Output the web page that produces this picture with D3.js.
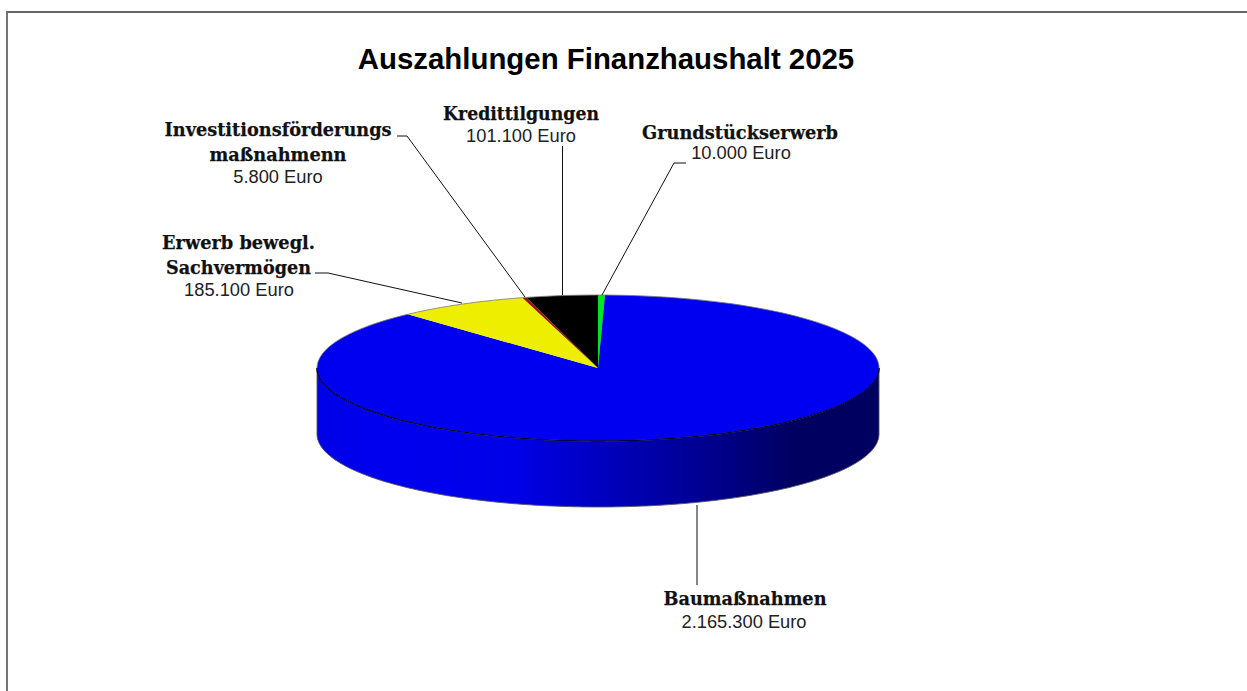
<!DOCTYPE html>
<html><head><meta charset="utf-8">
<script src="https://cdn.jsdelivr.net/npm/d3@7"></script>
<style>html,body{margin:0;padding:0;background:#fff}svg{display:block}</style></head>
<body><svg id="c" width="1247" height="691"></svg>
<script>
const titleText = "Auszahlungen Finanzhaushalt 2025";
const categories = ["Grundstückserwerb","Baumaßnahmen","Erwerb bewegl. Sachvermögen","Investitionsförderungs maßnahmenn","Kredittilgungen"];
const values = [10000,2165300,185100,5800,101100];
const valueLabels = ["10.000 Euro","2.165.300 Euro","185.100 Euro","5.800 Euro","101.100 Euro"];
const colors = ["#00e620","#0000f0","#eeee00","#a01010","#000000"];

const W=1247,H=691,cx=598,cy=368,rx=281,ry=73,depth=66;
const svg=d3.select("#c");
const defs=svg.append("defs");
const grad=defs.append("linearGradient").attr("id","side").attr("gradientUnits","userSpaceOnUse")
  .attr("x1",cx-rx).attr("x2",cx+rx).attr("y1",0).attr("y2",0);
[[0,"#0000e6"],[0.1,"#0000f0"],[0.35,"#0000e8"],[0.55,"#0000b4"],[0.72,"#000088"],[0.85,"#000060"],[1,"#000060"]]
  .forEach(([o,c])=>grad.append("stop").attr("offset",o).attr("stop-color",c));

svg.append("path").attr("d",`M7,${H}V12H${W}`).attr("fill","none").attr("stroke","#666").attr("stroke-width",1.8);

svg.append("text").attr("x",606).attr("y",69).attr("text-anchor","middle")
  .attr("font-family","'Liberation Sans',Arial,sans-serif").attr("font-weight",700).attr("font-size",29.4)
  .attr("fill","#000").text(titleText);

const pie=d3.pie().sort(null).value(d=>d).startAngle(0).endAngle(2*Math.PI);
const arcs=pie(values);
const px=d3.scaleLinear().domain([0,1]).range([cx,cx+rx]);
const py=d3.scaleLinear().domain([0,1]).range([cy,cy-ry]);
const P=a=>[px(Math.sin(a)),py(Math.cos(a))];

const front=d3.range(90,271).map(d=>d*Math.PI/180);
const topEdge=front.map(P);
const botEdge=front.slice().reverse().map(a=>{const p=P(a);return [p[0],p[1]+depth]});
const line=d3.line();
svg.append("path").attr("d",line(topEdge.concat(botEdge))+"Z").attr("fill","url(#side)")
  .attr("stroke","#556").attr("stroke-width",.9);

const arcGen=d3.arc().innerRadius(0).outerRadius(1);
const g=svg.append("g").attr("transform",`translate(${cx},${cy}) scale(${rx},${ry})`);
g.selectAll("path").data(arcs).join("path").attr("d",arcGen).attr("fill",(d,i)=>colors[i]);
svg.append("path").attr("d",line(d3.range(0,361,2).map(d=>P(d*Math.PI/180))))
  .attr("fill","none").attr("stroke","#777").attr("stroke-width",.8);
svg.append("path").attr("d",line(topEdge)).attr("fill","none").attr("stroke","#000038").attr("stroke-width",1.3);

const leaders=[
 [[602,295],[674,163],[686,163]],
 [[697,505],[697,585]],
 [[462,303],[328,273],[315,273]],
 [[525,297],[407,136],[397,136]],
 [[562.5,295],[562.5,146]]
];
leaders.forEach(p=>svg.append("path").attr("d",line(p)).attr("fill","none").attr("stroke","#111").attr("stroke-width",1));

const serif="'DejaVu Serif','Liberation Serif',serif", sans="'Liberation Sans',Arial,sans-serif";
const labelLayout=[
 {x:740,name:[["Grundstückserwerb",139,196]],vx:741,val:159},
 {x:745,name:[["Baumaßnahmen",605,163]],vx:744,val:628},
 {x:238.5,name:[["Erwerb bewegl.",249,153],["Sachvermögen",274,145]],vx:239,val:296},
 {x:278,name:[["Investitionsförderungs",136,227],["maßnahmenn",161,137]],vx:278,val:183},
 {x:521,name:[["Kredittilgungen",120,156]],vx:521,val:142}
];
labelLayout.forEach((l,i)=>{
  l.name.forEach(([t,y,w])=>svg.append("text").attr("x",l.x).attr("y",y).attr("text-anchor","middle")
    .attr("textLength",w).attr("lengthAdjust","spacingAndGlyphs")
    .attr("font-family",serif).attr("font-weight",700).attr("font-size",19).attr("fill","#111")
    .attr("stroke","#111").attr("stroke-width",.25).text(t));
  svg.append("text").attr("x",l.vx).attr("y",l.val).attr("text-anchor","middle")
    .attr("font-family",sans).attr("font-size",18.3).attr("fill","#222").text(valueLabels[i]);
});
</script></body></html>
